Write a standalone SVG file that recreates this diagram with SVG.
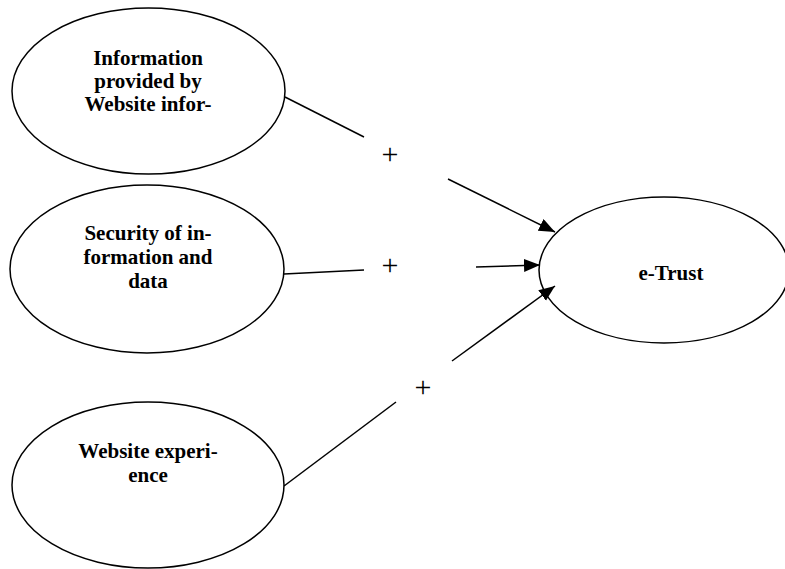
<svg xmlns="http://www.w3.org/2000/svg" width="785" height="569" viewBox="0 0 785 569">
<style>
.node ellipse{fill:#fff;stroke:#000;stroke-width:1.5}
.lbl{font-family:"Liberation Serif","Times New Roman",serif;font-weight:bold;font-size:21px;text-anchor:middle;fill:#000}
.plus{font-family:"Liberation Serif","Times New Roman",serif;font-size:30px;text-anchor:middle;fill:#000}
.edge{stroke:#000;stroke-width:1.5;fill:none}
</style>
<defs>
<marker id="arr" markerUnits="userSpaceOnUse" markerWidth="18" markerHeight="14" refX="16" refY="6.5" orient="auto">
<path d="M0,0 L16,6.5 L0,13 z" fill="#000"/>
</marker>
</defs>
<rect width="785" height="569" fill="#fff"/>
<g id="n1" class="node">
<ellipse cx="148.5" cy="91" rx="136.5" ry="83"/>
<text class="lbl" x="148" y="65">Information</text>
<text class="lbl" x="148" y="88">provided by</text>
<text class="lbl" x="148" y="111">Website infor-</text>
</g>
<g id="n2" class="node">
<ellipse cx="147" cy="269" rx="137" ry="84"/>
<text class="lbl" x="148" y="240">Security of in-</text>
<text class="lbl" x="148" y="264">formation and</text>
<text class="lbl" x="148" y="288">data</text>
</g>
<g id="n3" class="node">
<ellipse cx="148" cy="485" rx="136" ry="83"/>
<text class="lbl" x="148" y="458">Website experi-</text>
<text class="lbl" x="148" y="482">ence</text>
</g>
<g id="n4" class="node">
<ellipse cx="664" cy="270" rx="125" ry="73"/>
<text class="lbl" x="671" y="280">e-Trust</text>
</g>
<g id="edges">
<line class="edge" x1="285" y1="97" x2="364" y2="137"/>
<line class="edge" x1="448" y1="179" x2="555" y2="232" marker-end="url(#arr)"/>
<line class="edge" x1="284" y1="274" x2="364" y2="270"/>
<line class="edge" x1="476" y1="267" x2="540" y2="265" marker-end="url(#arr)"/>
<line class="edge" x1="284" y1="486" x2="396" y2="402"/>
<line class="edge" x1="452" y1="361" x2="555" y2="286" marker-end="url(#arr)"/>
<text class="plus" x="390" y="164">+</text>
<text class="plus" x="390" y="275">+</text>
<text class="plus" x="423" y="397">+</text>
</g>
</svg>
